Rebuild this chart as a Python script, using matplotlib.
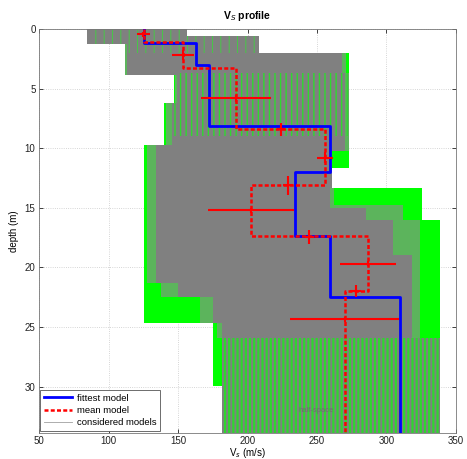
import numpy as np
import matplotlib
matplotlib.use("Agg")
import matplotlib.pyplot as plt

plt.rcParams['font.family'] = ['Liberation Sans', 'DejaVu Sans']

# ---------------- data ----------------
# fittest model (blue): layer velocities and layer bottom depths
fit_v = [125.8, 163, 172, 259, 234, 259, 310]
fit_bounds = [1.15, 3.0, 8.15, 12.0, 17.4, 22.5]

# mean model (red dashed)
mean_v = [125.8, 153.8, 191.7, 255.8, 202.5, 286.5, 270]
mean_bounds = [1.1, 3.25, 8.43, 13.05, 17.4, 22.0]

# uncertainty crosses of the mean model
eb_v = [125, 153.8, 191.7, 224, 255.8, 229.4, 202.5, 244.5, 286.5, 278, 270]
eb_d = [0.45, 2.18, 5.83, 8.43, 10.8, 13.1, 15.2, 17.45, 19.7, 22.0, 24.35]
eb_verr = [4.8, 7.8, 25.5, 3.0, 6.0, 3.6, 31.2, 3.0, 20.0, 4.0, 39.2]
eb_derr = [0.24, 0.45, 0.3, 0.57, 0.45, 0.8, 0.2, 0.58, 0.2, 0.52, 0.2]

# envelope of considered models (outer, green)
out_l_edges = [0, 1.26, 3.87, 6.25, 9.75, 24.7, 29.95, 34]
out_l_v = [84.3, 111.9, 147.1, 140.1, 125.8, 175.0, 181.4]
out_r_edges = [0, 0.56, 2.04, 11.7, 13.3, 16.05, 34]
out_r_v = [156.3, 208.3, 273.2, 260.6, 325.3, 338.5]

# transition zone (mixed green/gray)
mid_l_edges = [0, 1.26, 3.87, 6.25, 9.75, 21.3, 22.5, 24.7, 25.9]
mid_l_v = [84.3, 112, 148, 141.5, 128, 138, 166, 178]
mid_r_edges = [0, 0.56, 2.04, 3.7, 10.2, 13.3, 14.8, 16.05, 25.9]
mid_r_v = [156.3, 208.3, 271, 273, 261, 262, 312, 324]

# dense gray core
in_l_edges = [0, 1.26, 3.87, 6.25, 9.75, 21.3, 22.5, 24.7, 25.9]
in_l_v = [84.3, 113.5, 149, 145.5, 134, 150, 175, 181.4]
in_r_edges = [0, 0.56, 2.04, 3.7, 10.2, 13.3, 15.0, 16.05, 19.0, 25.9]
in_r_v = [156.3, 208.3, 268, 270, 260.6, 259.4, 285, 305, 318]

# striped zones
top_edges = [0, 0.56, 1.26, 2.0]
top_l = [86, 86, 113]
top_r = [156, 208, 208]
mid_edges = [3.7, 6.25, 9.0]
mid_l = [150, 146]
mid_r = [272, 272]
hs_edges = [25.9, 34]
hs_l = [181.4]
hs_r = [338.5]

GREEN = '#00ff00'
GRAY = '#808080'
MIX = '#5cb45c'


def stair(edges, vals):
    ys = np.repeat(np.asarray(edges, float), 2)[1:-1]
    xs = np.repeat(np.asarray(vals, float), 2)
    return xs, ys


def poly(ax, le, lv, re, rv, **kw):
    xl, yl = stair(le, lv)
    xr, yr = stair(re, rv)
    return ax.fill(np.concatenate([xl, xr[::-1]]),
                   np.concatenate([yl, yr[::-1]]), **kw)[0]


fig = plt.figure(figsize=(4.67, 4.59), dpi=100)
ax = fig.add_axes([39 / 467, 26 / 459, 417 / 467, 404 / 459])

poly(ax, out_l_edges, out_l_v, out_r_edges, out_r_v, facecolor=GREEN, lw=0, zorder=1)
poly(ax, mid_l_edges, mid_l_v, mid_r_edges, mid_r_v, facecolor=MIX, lw=0, zorder=1.1)
poly(ax, in_l_edges, in_l_v, in_r_edges, in_r_v, facecolor=GRAY, lw=0, zorder=1.2)

plt.rcParams['hatch.linewidth'] = 0.6
p1 = poly(ax, top_edges, top_l, top_edges, top_r, facecolor='none',
          edgecolor='#3fd23f', hatch='||', lw=0, zorder=1.3)
plt.rcParams['hatch.linewidth'] = 1.0
p2 = poly(ax, mid_edges, mid_l, mid_edges, mid_r, facecolor='none',
          edgecolor='#30d830', hatch='|||', lw=0, zorder=1.3)
plt.rcParams['hatch.linewidth'] = 1.4
p3 = poly(ax, hs_edges, hs_l, hs_edges, hs_r, facecolor='#2fd62f',
          edgecolor=GRAY, hatch='||||', lw=0, zorder=1.3)
for p, w in ((p1, 0.6), (p2, 1.0), (p3, 1.4)):
    try:
        p.set_hatch_linewidth(w)
    except Exception:
        pass

ax.text(249.6, 32.0, 'half-space', color='#6f6f6f', fontsize=5.5,
        ha='center', va='center', zorder=1.4)

# model lines
bottom = 34
fx, fy = stair([0] + fit_bounds + [bottom], fit_v)
mx, my = stair([0] + mean_bounds + [bottom], mean_v)
ax.plot(fx, fy, color='#0000ff', lw=2.0, zorder=3, label='fittest model')
ax.plot(mx, my, color='#ff0000', lw=1.8, ls=(0, (1.6, 0.9)), zorder=3.2,
        label='mean model')
ax.errorbar(eb_v, eb_d, xerr=eb_verr, yerr=eb_derr, fmt='none',
            ecolor='#ff0000', elinewidth=1.5, capsize=0, zorder=3.5)
ax.plot([], [], color='#a0a0a0', lw=0.6, label='considered models')

ax.set_xlim(50, 350)
ax.set_ylim(33.9, 0)
ax.set_xticks(np.arange(50, 351, 50))
ax.set_yticks(np.arange(0, 31, 5))
ax.tick_params(direction='in', top=True, right=True, labelsize=7,
               length=3, width=0.6, colors='#222222', pad=2.5)
ax.set_axisbelow(True)
ax.grid(True, ls=':', lw=0.6, color='#c8c8c8')
for s in ax.spines.values():
    s.set_linewidth(0.6)
    s.set_color('#777777')

ax.set_title('V$_S$ profile', fontsize=7.5, fontweight='bold', pad=7)
ax.set_xlabel('V$_s$ (m/s)', fontsize=7, labelpad=0)
ax.set_ylabel('depth (m)', fontsize=7, labelpad=4)

leg = ax.legend(loc='lower left', bbox_to_anchor=(0.003, 0.005),
                borderaxespad=0, fontsize=6.8, fancybox=False, framealpha=1,
                edgecolor='#555555', handlelength=3.0, borderpad=0.4,
                labelspacing=0.35, handletextpad=0.5)
leg.get_frame().set_linewidth(0.6)
leg.set_zorder(5)

fig.savefig('out.png', dpi=100)
